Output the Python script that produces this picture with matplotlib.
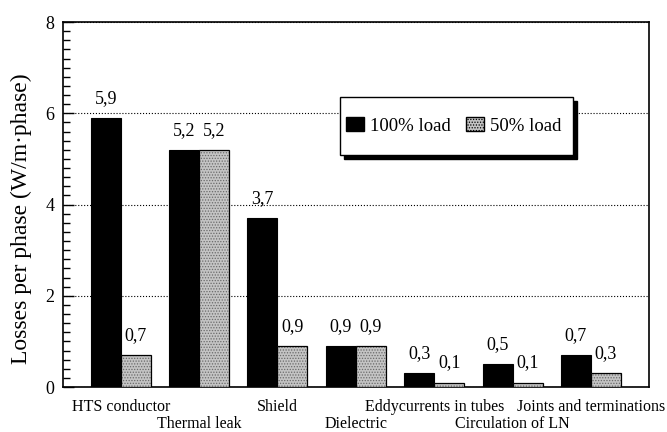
import matplotlib.pyplot as plt
import numpy as np
from matplotlib.ticker import MultipleLocator
from matplotlib.patches import Rectangle

categories = ["HTS conductor", "Thermal leak", "Shield", "Dielectric",
              "Eddycurrents in tubes", "Circulation of LN", "Joints and terminations"]
full_load = [5.9, 5.2, 3.7, 0.9, 0.3, 0.5, 0.7]
half_load = [0.7, 5.2, 0.9, 0.9, 0.1, 0.1, 0.3]

plt.rcParams['font.family'] = ['Liberation Serif', 'DejaVu Serif']
plt.rcParams['hatch.linewidth'] = 0.6

fig = plt.figure(figsize=(6.67, 4.32), dpi=100)
ax = fig.add_axes([0.094, 0.104, 0.879, 0.845])

x = np.arange(len(categories))
w = 0.383
ax.bar(x - w / 2, full_load, w, color='black', edgecolor='black', linewidth=0.8, zorder=3)
# dotted grey fill, then a black outline on top
ax.bar(x + w / 2, half_load, w, color='#c4c4c4', edgecolor='#6a6a6a', linewidth=0,
       hatch='......', zorder=3)
ax.bar(x + w / 2, half_load, w, fill=False, edgecolor='black', linewidth=0.9, zorder=4)

def fmt(v):
    return f"{v:.1f}".replace('.', ',')

for xs, vals in ((x - w / 2, full_load), (x + w / 2, half_load)):
    for xi, v in zip(xs, vals):
        ax.annotate(fmt(v), (xi, v), xytext=(0, 14), textcoords='offset points',
                    ha='center', va='center', fontsize=13)

ax.set_xlim(-0.74, 6.74)
ax.set_ylim(0, 8)
ax.set_yticks([0, 2, 4, 6, 8])
ax.yaxis.set_minor_locator(MultipleLocator(0.2))
ax.tick_params(axis='y', which='major', direction='in', length=8, labelsize=13, width=1, pad=6)
ax.tick_params(axis='y', which='minor', direction='in', length=5, width=1)
ax.grid(axis='y', linestyle=':', color='black', linewidth=0.8, zorder=0)

ax.set_xticks(x)
ax.set_xticklabels([])
ax.tick_params(axis='x', length=0)
for i, c in enumerate(categories):
    dy = -0.055 if i % 2 == 0 else -0.1
    ax.text(i, dy, c, transform=ax.get_xaxis_transform(), ha='center', va='center', fontsize=11.5)

ax.set_ylabel('Losses per phase (W/m·phase)', fontsize=17)
ax.yaxis.set_label_coords(-0.052, 0.46)
for s in ax.spines.values():
    s.set_linewidth(1.2)

# legend box with drop shadow
bx, by, bw, bh = 0.473, 0.636, 0.397, 0.159
ax.add_patch(Rectangle((bx + 0.007, by - 0.011), bw, bh, transform=ax.transAxes,
                       facecolor='black', edgecolor='black', zorder=5))
ax.add_patch(Rectangle((bx, by), bw, bh, transform=ax.transAxes,
                       facecolor='white', edgecolor='black', linewidth=1.0, zorder=6))
h1 = Rectangle((0, 0), 1, 1, facecolor='black', edgecolor='black')
h2 = Rectangle((0, 0), 1, 1, facecolor='#c4c4c4', edgecolor='black', hatch='......')
leg = ax.legend([h1, h2], ['100% load', '50% load'], loc='center',
                bbox_to_anchor=(bx + bw / 2 - 0.005, by + bh / 2), fontsize=13.5, frameon=False,
                ncol=2, handlelength=1.0, handleheight=0.8, handletextpad=0.3,
                columnspacing=0.8, borderaxespad=0)
leg.set_zorder(7)

plt.savefig('out.png', dpi=100)
